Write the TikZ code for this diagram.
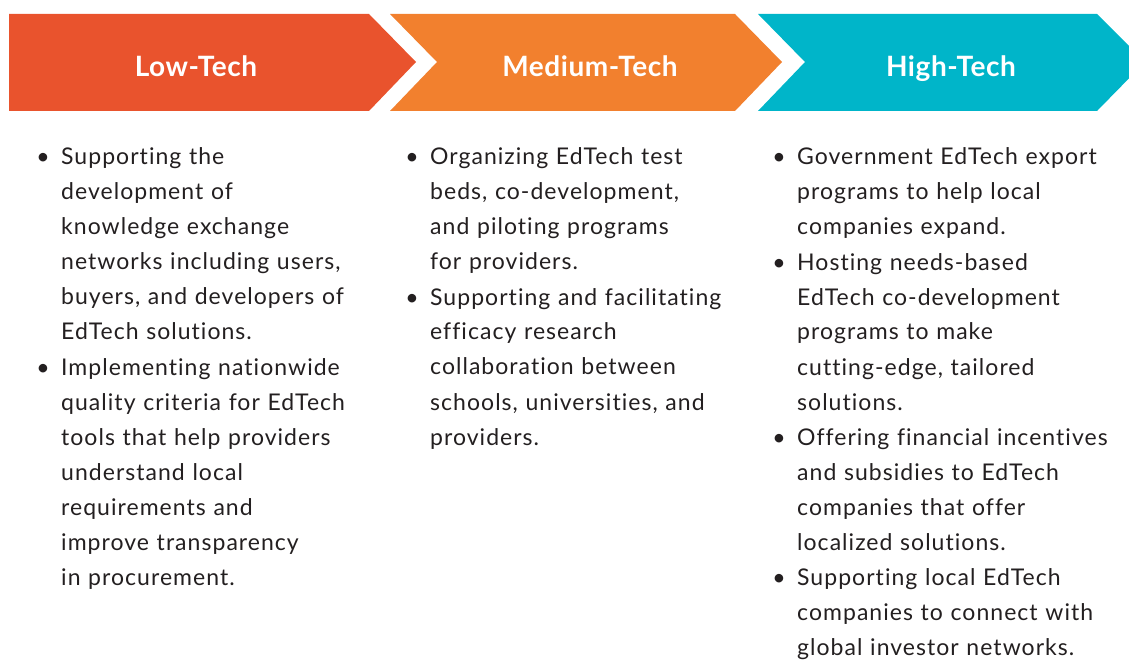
\documentclass[tikz,border=0pt]{standalone}
\usepackage{fontspec}
\setmainfont{Lato}[Ligatures=NoCommon]
\usepackage{xcolor}
\definecolor{lowred}{HTML}{E9532D}
\definecolor{midorange}{HTML}{F2802E}
\definecolor{highteal}{HTML}{00B5C9}
\definecolor{bodygray}{HTML}{231F20}
\usepackage{tikz}

\begin{document}
\begin{tikzpicture}[
			x=1pt, y=-1pt,
			head/.style={anchor=base, text=white, font=\fontsize{28}{30}\selectfont\bfseries\addfontfeature{LetterSpace=2}},
			point/.style={anchor=base west, inner sep=0pt, text width=360pt, align=left, text=bodygray, font=\fontsize{23}{35}\selectfont\addfontfeature{LetterSpace=4.5}},
			dot/.style={anchor=base, inner sep=0pt, text=bodygray, font=\fontsize{23}{35}\selectfont}]
			\useasboundingbox (0,0) rectangle (1129,660);
			\clip (0,0) rectangle (1129,660);
			\fill[lowred] (9,14) -- (369,14) -- (416,62) -- (369,111) -- (9,111) -- cycle;
			\fill[midorange] (390,14) -- (735,14) -- (782,62) -- (735,111) -- (390,111) -- (437,62) -- cycle;
			\fill[highteal] (758,14) -- (1097,14) -- (1145,62) -- (1097,111) -- (758,111) -- (805,62) -- cycle;
			\node[head] (low) at (196,77) {Low-Tech};
			\node[head] (medium) at (590,77) {Medium-Tech};
			\node[head] (high) at (951,77) {High-Tech};
			\node[point] (low1) at (61,165) {Supporting the\\development of\\knowledge exchange\\networks including users,\\buyers, and developers of\\EdTech solutions.};
			\node[point] (low2) at (61,375) {Implementing nationwide\\quality criteria for EdTech\\tools that help providers\\understand local\\requirements and\\improve transparency\\in procurement.};
			\node[point] (med1) at (430,165) {Organizing EdTech test\\beds, co-development,\\and piloting programs\\for providers.};
			\node[point] (med2) at (430,305) {Supporting and facilitating\\efficacy research\\collaboration between\\schools, universities, and\\providers.};
			\node[point] (high1) at (797,165) {Government EdTech export\\programs to help local\\companies expand.};
			\node[point] (high2) at (797,270) {Hosting needs-based\\EdTech co-development\\programs to make\\cutting-edge, tailored\\solutions.};
			\node[point] (high3) at (797,445) {Offering financial incentives\\and subsidies to EdTech\\companies that offer\\localized solutions.};
			\node[point] (high4) at (797,585) {Supporting local EdTech\\companies to connect with\\global investor networks.};
			\foreach \item in {low1,low2,med1,med2,high1,high2,high3,high4}
				\node[dot] (\item dot) at ([xshift=-18pt]\item.base west) {\textbullet};
		\end{tikzpicture}
\end{document}
